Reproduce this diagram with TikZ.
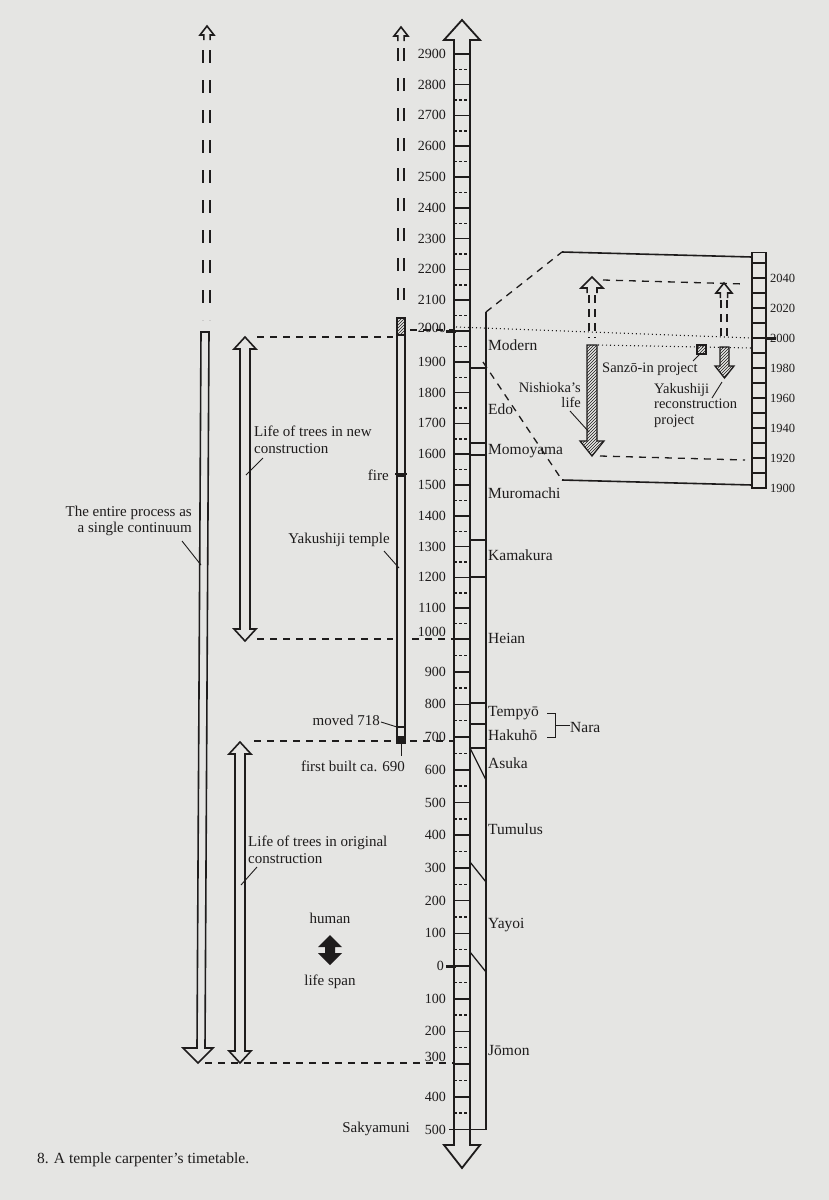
\documentclass[tikz,border=0pt]{standalone}
\usepackage{fontspec}
\setmainfont{Liberation Serif}
\usetikzlibrary{patterns}
\pgfmathdeclarefunction{Y}{1}{\pgfmathparse{(#1>=1000) ? (639-(#1-1000)*0.308) : (639+(1000-#1)*0.327)}}
\pgfmathdeclarefunction{I}{1}{\pgfmathparse{338-(#1-2000)*1.5}}
\definecolor{paper}{RGB}{229,229,227}
\definecolor{ink}{RGB}{30,28,28}
\tikzset{
 lbl/.style={font=\fontsize{15}{16.5}\selectfont, text=ink, inner sep=1pt},
 sml/.style={font=\fontsize{14.5}{15.5}\selectfont, text=ink, inner sep=1pt},
 yr/.style={font=\fontsize{14}{15}\selectfont, text=ink, inner sep=1pt, anchor=east},
 per/.style={font=\fontsize{15.5}{16}\selectfont, text=ink, inner sep=1pt, anchor=west},
 dsh/.style={draw=ink, line width=1.3pt, dash pattern=on 7pt off 6pt},
 dot/.style={draw=ink, line width=1.1pt, dash pattern=on 1pt off 3pt},
 bar/.style={draw=ink, line width=1.6pt, fill=paper},
 hat/.style={draw=ink, line width=1.3pt, pattern=north east lines, pattern color=ink},
 lead/.style={draw=ink, line width=0.9pt}
}
\newcommand\hollowup[4]{% x, tip, halfwidth, height
 \draw[bar] (#1-#3*0.45,#2+#4+5) -- (#1-#3*0.45,#2+#4) -- (#1-#3,#2+#4) -- (#1,#2) -- (#1+#3,#2+#4) -- (#1+#3*0.45,#2+#4) -- (#1+#3*0.45,#2+#4+5);}
\newcommand\dblarrow[5]{% x, topTip, bottomTip, shaft half, head half
 \draw[bar] (#1,#2) -- (#1+#5,#2+12) -- (#1+#4,#2+12) -- (#1+#4,#3-12) -- (#1+#5,#3-12) -- (#1,#3) -- (#1-#5,#3-12) -- (#1-#4,#3-12) -- (#1-#4,#2+12) -- (#1-#5,#2+12) -- cycle;}
\begin{document}
\begin{tikzpicture}[x=1pt,y=-1pt,line join=miter]
\fill[paper] (0,0) rectangle (829,1200);
\useasboundingbox (0,0) rectangle (829,1200);

% ===== main ruler =====
\draw[draw=ink,line width=1.8pt] (454,40) -- (454,1145) -- (444,1145) -- (462,1168) -- (480,1145) -- (470,1145) -- (470,40) -- (480,40) -- (462,20) -- (444,40) -- cycle;
\foreach \v in {-500,-400,...,2900}{\draw[ink,line width=1.6pt] (454,{Y(\v)}) -- (470,{Y(\v)});}
\foreach \v in {-450,-350,...,2850}{\draw[ink,line width=1.4pt,dash pattern=on 3pt off 2pt] (454,{Y(\v)}) -- (470,{Y(\v)});}
\foreach \v in {100,200,...,900,1100,1200,...,1900,2100,2200,...,2900}{\node[yr] (t\v) at (447,{Y(\v)}) {\v};}
\node[yr] (t1000) at (447,{Y(1000)-7}) {1000};
\node[yr] (t2000) at (447,{Y(2000)-3}) {2000};
\node[yr] (t0) at (445,{Y(0)}) {0};
\foreach \v in {100,200,400,500}{\node[yr] (b\v) at (447,{Y(-\v)}) {\v};}
\node[yr] (b300) at (447,{Y(-300)-7}) {300};
\draw[ink,line width=3pt] (446,{Y(2000)}) -- (456,{Y(2000)});
\draw[ink,line width=3pt] (446,{Y(0)}) -- (456,{Y(0)});
\draw[ink,line width=1.6pt] (449,{Y(-500)}) -- (486,{Y(-500)});
% period column
\draw[ink,line width=1.6pt] (486,{Y(-500)}) -- (486,312) coordinate (pctop);
\foreach \yy in {368,443,455,540,577,703,724}{\draw[ink,line width=1.3pt] (470,\yy) -- (486,\yy);}
\draw[ink,line width=1.3pt] (470,748) -- (486,748);
\draw[ink,line width=1.3pt] (470,748) -- (486,780);
\draw[ink,line width=1.3pt] (470,862) -- (486,882);
\draw[ink,line width=1.3pt] (470,952) -- (486,972);
\node[per] (modern) at (487,345) {Modern};
\node[per] (edo) at (487,409) {Edo};
\node[per] (momo) at (487,451) {Momoyama};
\node[per] (muro) at (487,493) {Muromachi};
\node[per] (kama) at (487,555) {Kamakura};
\node[per] (heian) at (487,638) {Heian};
\node[per] (temp) at (487,713) {Tempyō};
\node[per] (haku) at (487,735) {Hakuhō};
\node[per] (asuka) at (487,763) {Asuka};
\node[per] (tumu) at (487,829) {Tumulus};
\node[per] (yayoi) at (487,925) {Yayoi};
\node[per] (jomon) at (487,1050) {Jōmon};
\draw[ink,line width=1pt] (547,713) -- (555,713) -- (555,737) -- (547,737);
\draw[ink,line width=1pt] (555,725) -- (570,725);
\node[per] (nara) at (569,727) {Nara};

% ===== inset =====
\draw[dsh] (pctop) -- (562,252);
\draw[ink,line width=1.6pt] (562,252) -- (752,257);
\draw[dsh] (483,362) -- (562,480);
\draw[ink,line width=1.6pt] (562,480) -- (752,485);
\draw[ink,line width=1.6pt] (752,{I(2057)}) rectangle (766,{I(1900)});
\foreach \v in {1910,1920,...,2050}{\draw[ink,line width=1.4pt] (752,{I(\v)}) -- (766,{I(\v)});}
\foreach \v in {1900,1920,...,2040}{\node[per,font=\fontsize{12.5}{13}\selectfont] (i\v) at (769,{I(\v)}) {\v};}
\draw[ink,line width=3pt] (766,{I(2000)}) -- (776,{I(2000)});
\draw[dot] (456,327) -- (752,{I(2000)});
\draw[dot] (598,345) -- (752,348);
% Nishioka
\hollowup{592}{277}{11}{11}
\draw[ink,line width=1.3pt,dash pattern=on 8pt off 6pt] (589,295) -- (589,338) (595,295) -- (595,338);
\draw[hat] (587,345) -- (597,345) -- (597,441) -- (604,441) -- (592,456) -- (580,441) -- (587,441) -- cycle;
\draw[dsh] (603,280) -- (745,284);
\draw[dsh] (600,456) -- (745,460);
\node[sml,anchor=east,align=right] (nish) at (582,395) {Nishioka's\\life};
\draw[lead] (570,411) -- (589,432);
% Yakushiji reconstruction
\hollowup{724}{283}{8}{10}
\draw[ink,line width=1.3pt,dash pattern=on 8pt off 6pt] (721,300) -- (721,340) (727,300) -- (727,340);
\draw[hat] (720,347) -- (729,347) -- (729,366) -- (734,366) -- (724.5,378) -- (715,366) -- (720,366) -- cycle;
\draw[hat] (697,345) rectangle (706,354);
\node[sml,anchor=west] (sanzo) at (601,369) {Sanzō-in project};
\draw[lead] (693,361) -- (700,354);
\node[sml,anchor=north west,align=left] (yrec) at (653,382) {Yakushiji\\reconstruction\\project};
\draw[lead] (712,398) -- (722,382);

% ===== left bars =====
% entire process
\hollowup{207}{26}{7}{9}
\draw[ink,line width=1.4pt,dash pattern=on 13pt off 17pt] (203,50) -- (203,320) (210,50) -- (210,320);
\draw[bar] (201,332) -- (209,332) -- (205,1048) -- (213,1048) -- (198,1063) -- (183,1048) -- (197,1048) -- cycle;
\node[lbl,anchor=east,align=right] (entire) at (193,521) {The entire process as\\a single continuum};
\draw[lead] (182,541) -- (201,565);
% new construction
\dblarrow{245}{337}{641}{5}{11}
\draw[dsh] (257,337) -- (393,337);
\draw[dsh] (410,330) -- (454,330);
\draw[dsh] (257,639) -- (393,639);
\draw[dsh] (412,639) -- (454,639);
\node[lbl,anchor=west,align=left] (newc) at (253,440) {Life of trees in new\\construction};
\draw[lead] (263,458) -- (246,475);
% original construction
\dblarrow{240}{742}{1063}{5}{11}
\draw[dsh] (254,741) -- (454,741);
\draw[dsh] (205,1063) -- (454,1063);
\node[lbl,anchor=west,align=left] (origc) at (247,850) {Life of trees in original\\construction};
\draw[lead] (257,867) -- (241,885);
% Yakushiji temple bar
\hollowup{401}{27}{7}{9}
\draw[ink,line width=1.4pt,dash pattern=on 13pt off 17pt] (398,48) -- (398,300) (404,48) -- (404,300);
\draw[hat] (397,318) rectangle (405,335);
\draw[bar] (397,335) rectangle (405,474);
\draw[bar] (397,476) rectangle (405,727);
\draw[bar] (397,727) rectangle (405,737);
\draw[hat,fill=ink] (397,737) rectangle (405,743);
\draw[ink,line width=1.3pt] (395,474) -- (407,474);
\node[lbl,anchor=east] (fire) at (390,475) {fire};
\node[lbl,anchor=east] (yaku) at (391,540) {Yakushiji temple};
\draw[lead] (384,551) -- (399,568);
\node[lbl,anchor=east] (moved) at (381,720) {moved 718};
\draw[lead] (381,722) -- (397,727);
\node[lbl,anchor=east] (first) at (406,766) {first built ca. 690};
\draw[lead] (401,743) -- (401,756);
% human life span
\node[lbl] (human) at (330,918) {human};
\fill[ink] (330,935) -- (342,947) -- (335,947) -- (335,953) -- (342,953) -- (330,965) -- (318,953) -- (325,953) -- (325,947) -- (318,947) -- cycle;
\node[lbl] (life) at (330,982) {life span};
\node[lbl,anchor=east] (saky) at (411,1129) {Sakyamuni};
\node[lbl,anchor=west,font=\fontsize{15.5}{16}\selectfont] (cap) at (36,1160) {8. A temple carpenter's timetable.};
\end{tikzpicture}
\end{document}
